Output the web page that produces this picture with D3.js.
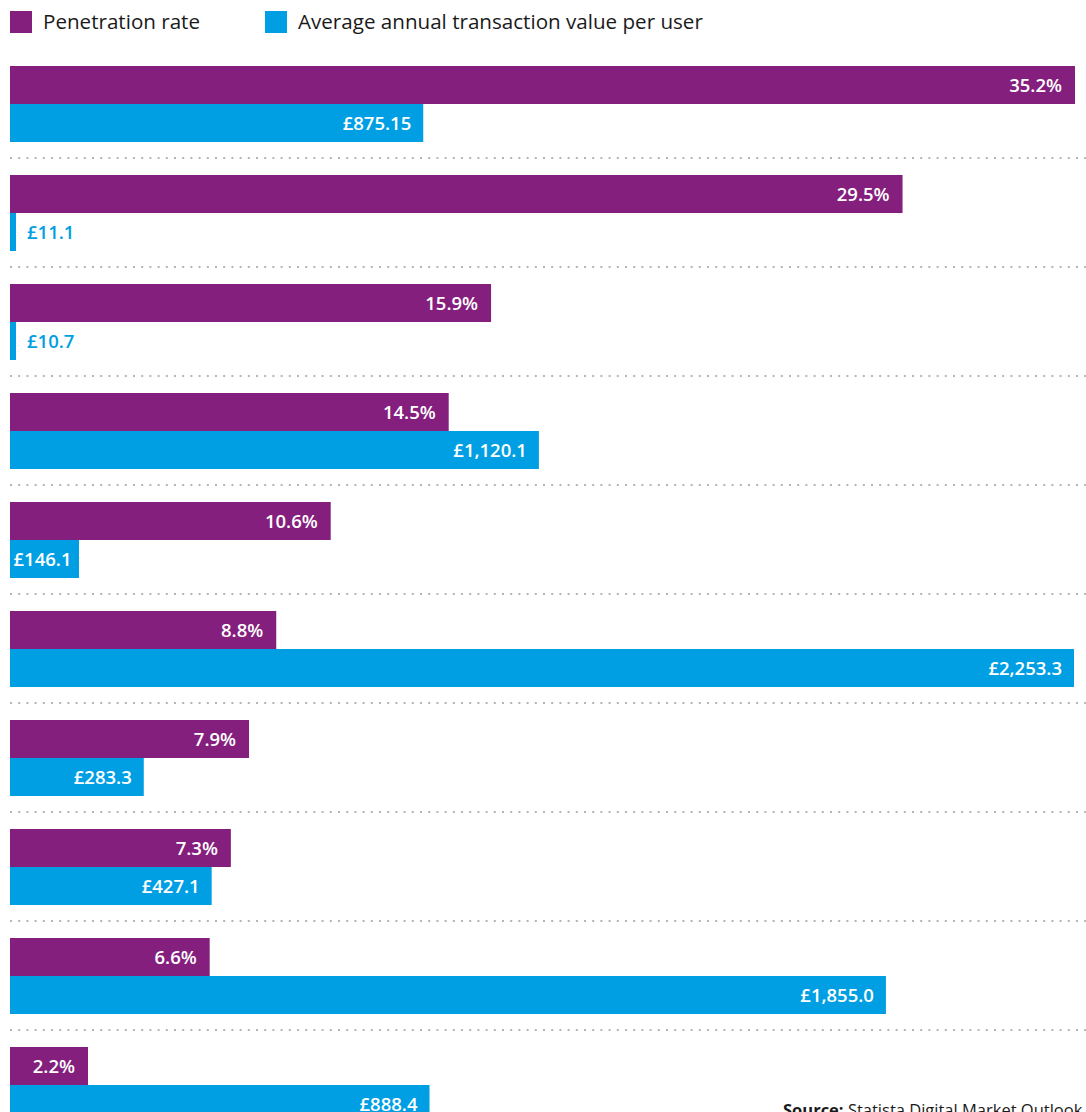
<!DOCTYPE html>
<html lang="en">
<head>
  <meta charset="UTF-8">
  <title>Penetration rate and transaction value</title>
  <style>
    body { margin: 0; background: #fff; }
    svg { display: block; font-family: "Open Sans", sans-serif; }
    .legend text { font-size: 20.6px; fill: #1a1a1a; }
    .val { font-size: 18.5px; font-weight: 600; }
    .sep { stroke: #b5b5b5; stroke-width: 2.2; stroke-dasharray: 2 6.2; }
    .source { font-size: 16.5px; fill: #1a1a1a; }
  </style>
</head>
<body>
  <div id="chart"></div>

  <script src="https://d3js.org/d3.v7.min.js"></script>
  <script>
    // Series values, top to bottom
    const penetration = [35.2, 29.5, 15.9, 14.5, 10.6, 8.8, 7.9, 7.3, 6.6, 2.2];
    const avgValue = [875.15, 11.1, 10.7, 1120.1, 146.1, 2253.3, 283.3, 427.1, 1855.0, 888.4];
    const penLabels = ["35.2%", "29.5%", "15.9%", "14.5%", "10.6%", "8.8%", "7.9%", "7.3%", "6.6%", "2.2%"];
    const valLabels = ["£875.15", "£11.1", "£10.7", "£1,120.1", "£146.1", "£2,253.3", "£283.3", "£427.1", "£1,855.0", "£888.4"];
    const seriesNames = ["Penetration rate", "Average annual transaction value per user"];

    const W = 1086, H = 1112;
    const left = 10;
    const purple = "#841f7e", blue = "#009fe3";
    const barH = 38;

    const svg = d3.select("#chart").append("svg")
      .attr("width", W)
      .attr("height", H);

    // Legend
    const legend = svg.append("g").attr("class", "legend");
    const legX = [10, 265];
    [purple, blue].forEach((c, i) => {
      legend.append("rect")
        .attr("x", legX[i]).attr("y", 11)
        .attr("width", 22).attr("height", 22)
        .attr("fill", c);
      legend.append("text")
        .attr("x", legX[i] + 33).attr("y", 29)
        .text(seriesNames[i]);
    });

    // Scales
    const rows = penetration.map((d, i) => i);
    const y = d3.scaleBand().domain(rows).range([57, 57 + 109 * rows.length]);
    const xPen = d3.scaleLinear().domain([0, d3.max(penetration)]).range([0, 1065]);
    const xVal = d3.scaleLinear().domain([0, d3.max(avgValue)]).range([0, 1064]);

    // Dotted separators
    svg.selectAll("line.sep")
      .data(rows.slice(0, -1))
      .join("line")
      .attr("class", "sep")
      .attr("x1", left).attr("x2", W)
      .attr("y1", d => y(d) + 101).attr("y2", d => y(d) + 101);

    const groups = svg.selectAll("g.row")
      .data(rows)
      .join("g")
      .attr("class", "row")
      .attr("transform", d => `translate(${left},${y(d)})`);

    // Penetration bars
    const penW = i => Math.max(xPen(penetration[i]), 78);
    groups.append("rect")
      .attr("y", 9).attr("height", barH)
      .attr("width", d => penW(d))
      .attr("fill", purple);
    groups.append("text")
      .attr("class", "val")
      .attr("x", d => penW(d) - 13)
      .attr("y", 9 + barH / 2 + 7)
      .attr("text-anchor", "end")
      .attr("fill", "#fff")
      .text(d => penLabels[d]);

    // Transaction value bars
    const valW = i => Math.max(xVal(avgValue[i]), 6);
    groups.append("rect")
      .attr("y", 9 + barH).attr("height", barH)
      .attr("width", d => valW(d))
      .attr("fill", blue);
    groups.append("text")
      .attr("class", "val")
      .attr("y", 9 + barH * 1.5 + 7)
      .text(d => valLabels[d])
      .each(function (d) {
        const t = d3.select(this);
        const w = valW(d);
        const tw = this.getComputedTextLength();
        if (tw + 6 < w) {
          const pad = Math.min(12, (w - tw) / 2 + 2);
          t.attr("x", w - pad).attr("text-anchor", "end").attr("fill", "#fff");
        } else {
          t.attr("x", w + 11).attr("text-anchor", "start").attr("fill", blue);
        }
      });

    // Source note
    const src = svg.append("text")
      .attr("class", "source")
      .attr("x", 783).attr("y", 1116);
    src.append("tspan").attr("font-weight", 700).text("Source: ");
    src.append("tspan").text("Statista Digital Market Outlook");
  </script>
</body>
</html>
